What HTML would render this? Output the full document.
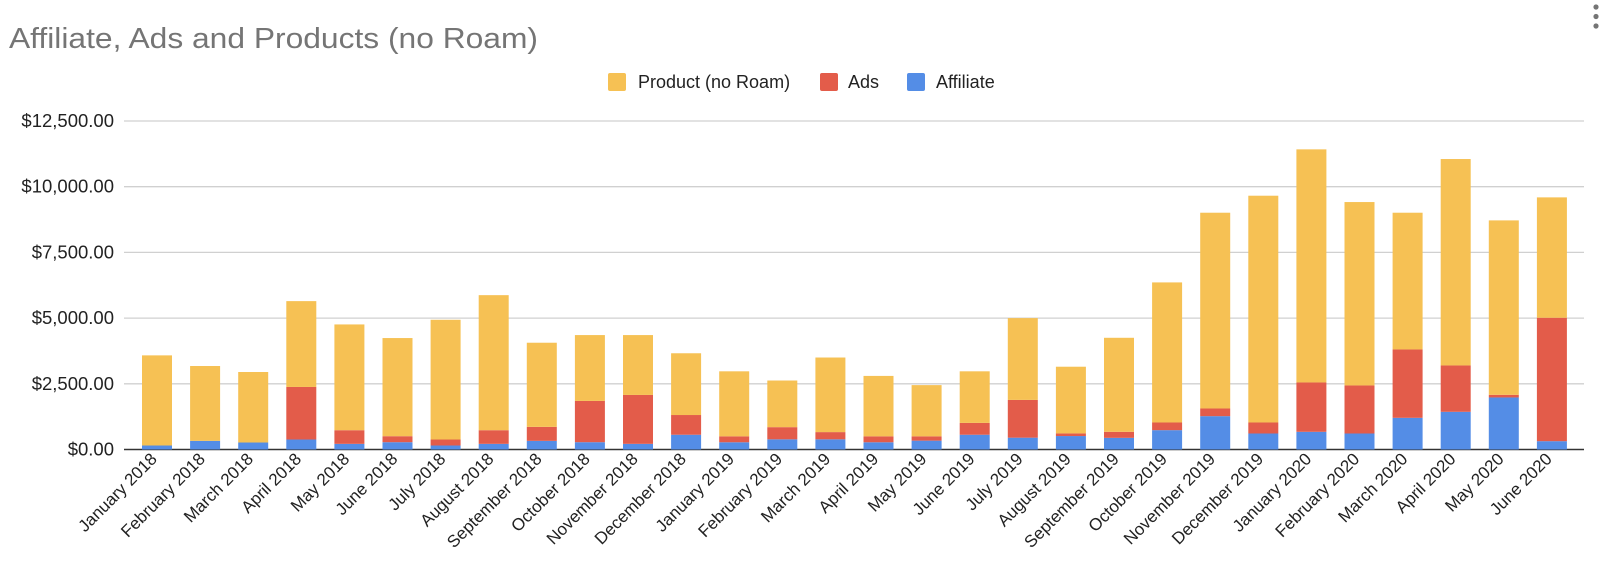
<!DOCTYPE html>
<html><head><meta charset="utf-8">
<style>
html,body{margin:0;padding:0;background:#fff;}
body{width:1600px;height:577px;overflow:hidden;font-family:"Liberation Sans",Arial,sans-serif;}
svg text{font-family:"Liberation Sans",Arial,sans-serif;}
</style></head>
<body>
<svg id="chart" width="1600" height="577" viewBox="0 0 1600 577" xmlns="http://www.w3.org/2000/svg">
  <text x="9" y="48" font-size="29" fill="#757575" textLength="529" lengthAdjust="spacingAndGlyphs">Affiliate, Ads and Products (no Roam)</text>
  <g>
    <circle cx="1596" cy="7" r="2.6" fill="#757575"/>
    <circle cx="1596" cy="16.5" r="2.6" fill="#757575"/>
    <circle cx="1596" cy="26" r="2.6" fill="#757575"/>
  </g>
  <g>
    <g>
      <rect x="608" y="73" width="18" height="18" rx="2" fill="#f6c154"/>
      <text x="638" y="88" font-size="18" fill="#222">Product (no Roam)</text>
    </g>
    <g>
      <rect x="820" y="73" width="18" height="18" rx="2" fill="#e35c4a"/>
      <text x="848" y="88" font-size="18" fill="#222">Ads</text>
    </g>
    <g>
      <rect x="907" y="73" width="18" height="18" rx="2" fill="#548de6"/>
      <text x="936" y="88" font-size="18" fill="#222">Affiliate</text>
    </g>
  </g>
  <g id="grid"></g>
  <g id="bars"></g>
  <g id="xlabels"></g>
</svg>
<script>
const categories = ["January 2018","February 2018","March 2018","April 2018","May 2018","June 2018","July 2018","August 2018","September 2018","October 2018","November 2018","December 2018","January 2019","February 2019","March 2019","April 2019","May 2019","June 2019","July 2019","August 2019","September 2019","October 2019","November 2019","December 2019","January 2020","February 2020","March 2020","April 2020","May 2020","June 2020"];
const affiliate = [152,329,266,380,215,278,152,215,329,278,215,562,275,387,387,275,337,562,450,512,444,736,1269,609,673,609,1206,1434,1980,317];
const ads = [0,0,0,2000,519,228,228,519,532,1570,1861,750,225,463,275,225,163,450,1437,100,229,292,292,419,1878,1828,2601,1764,101,4696];
const product = [3430,2848,2683,3266,4025,3735,4557,5139,3202,2506,2278,2350,2475,1775,2838,2300,1950,1963,3113,2538,3578,5330,7449,8629,8870,6979,5203,7855,6637,4581];
const tickValues = [0,2500,5000,7500,10000,12500];
const tickLabels = ["$0.00","$2,500.00","$5,000.00","$7,500.00","$10,000.00","$12,500.00"];

const NS="http://www.w3.org/2000/svg";
const plotLeft=124, plotRight=1584, y0=449.5, pxPerUnit=262.8/10000;
const band=48.1, firstCenter=157, barW=30;
function yScale(v){return y0 - v*pxPerUnit;}
function xCenter(i){return firstCenter + i*band;}
function mk(tag,attrs,parent){const e=document.createElementNS(NS,tag);for(const k in attrs)e.setAttribute(k,attrs[k]);parent.appendChild(e);return e;}

const grid=document.getElementById('grid');
tickValues.forEach((v,i)=>{
  const y=yScale(v);
  const ln=mk('line',{x1:plotLeft,x2:plotRight,y1:y,y2:y,stroke:i===0?'#333':'#d0d0d0','stroke-width':i===0?1.6:1.3},grid);
  
  
  const t=mk('text',{x:114,y:y+6,'text-anchor':'end','font-size':18.5,fill:'#222'},grid);
  t.textContent=tickLabels[i];
  
  
});

const bars=document.getElementById('bars');
const series=[[affiliate,'#548de6','affiliate'],[ads,'#e35c4a','ads'],[product,'#f6c154','product']];
categories.forEach((c,i)=>{
  let base=0;
  series.forEach(([arr,col,nm])=>{
    const v=arr[i];
    if(v<=0)return;
    const yt=yScale(base+v), yb=yScale(base);
    const r=mk('rect',{x:xCenter(i)-barW/2,y:yt,width:barW,height:yb-yt,fill:col},bars);
    
    
    base+=v;
  });
  const cx=xCenter(i)+1, cy=460;
  const t=mk('text',{x:cx,y:cy,'text-anchor':'end','font-size':17,fill:'#222',transform:`rotate(-45 ${cx} ${cy})`},document.getElementById('xlabels'));
  t.textContent=c;
  
  
});
</script>
</body></html>
